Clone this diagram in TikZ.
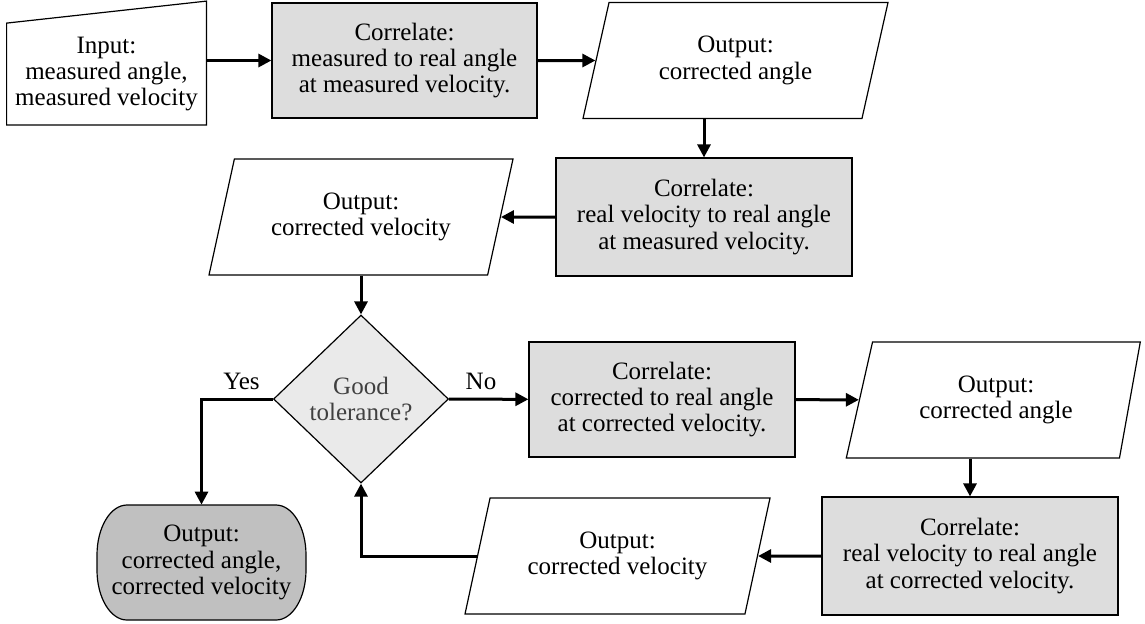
\documentclass[tikz,border=0pt]{standalone}
\usepackage{fontspec}
\setmainfont{Liberation Serif}
\usepackage{xcolor}
\usepackage{tikz}
\usetikzlibrary{shapes.geometric,arrows.meta,positioning,calc}
\definecolor{corrbg}{RGB}{221, 221, 221}
\definecolor{decisionbg}{RGB}{234, 234, 234}
\definecolor{endbg}{RGB}{192, 192, 192}
\definecolor{textmuted}{RGB}{64, 64, 64}

\begin{document}
\begin{tikzpicture}[x=0.5pt, y=-0.5pt,
    every node/.style={font=\fontsize{12.5}{13.2}\selectfont, align=center},
    corrbox/.style={draw, line width=0.6pt, fill=corrbg, minimum height=57.5pt, inner sep=0pt},
    iobox/.style={trapezium, draw, line width=0.6pt, fill=white, trapezium stretches body,
        minimum width=152.5pt, minimum height=58pt, inner sep=0pt},
    flow/.style={line width=1.5pt, -{Triangle[length=6.5pt, width=6.5pt]}}]
    \useasboundingbox (0,0) rectangle (1145,623);

    % top row
    \node[minimum width=99.5pt, minimum height=50.5pt, inner sep=0pt] (in) at (106.5,74) {Input:\\measured angle,\\measured velocity};
    \draw[line width=0.6pt] (in.south west) -- (in.south east) -- ([yshift=11pt]in.north east) -- (in.north west) -- cycle;
    \node[corrbox, minimum width=132.5pt] (corr1) at (404.5,60.5) {Correlate:\\measured to real angle\\at measured velocity.};
    \node[iobox, trapezium left angle=61.7, trapezium right angle=118.3] (out1) at (735.5,60.5) {Output:\\corrected angle};

    % second row
    \node[corrbox, minimum width=148pt, minimum height=59pt] (corr2) at (704,217) {Correlate:\\real velocity to real angle\\ at measured velocity.};
    \node[iobox, trapezium left angle=62.3, trapezium right angle=117.7, minimum width=152pt] (out2) at (361,217) {Output:\\corrected velocity};

    % decision
    \node[diamond, draw, line width=0.6pt, fill=decisionbg, text=textmuted, aspect=1,
        minimum width=87.5pt, minimum height=84pt, inner sep=0pt] (dia) at (361,399) {Good\\tolerance?};
    \node (yes) at (241.5,381) {Yes};
    \node (no) at (481,381) {No};

    % end: flat top and bottom, curved sides
    \draw[line width=0.6pt, fill=endbg] (127,505) -- (276,505)
        arc[start angle=90, end angle=0, x radius=15pt, y radius=25pt] -- (306,570)
        arc[start angle=0, end angle=-90, x radius=15pt, y radius=25pt] -- (127,620)
        arc[start angle=-90, end angle=-180, x radius=15pt, y radius=25pt] -- (97,555)
        arc[start angle=180, end angle=90, x radius=15pt, y radius=25pt] -- cycle;
    \node[minimum width=104.5pt, minimum height=57.5pt, inner sep=0pt] (term) at (201.5,562.5) {Output:\\corrected angle,\\corrected velocity};

    % loop
    \node[corrbox, minimum width=133pt] (corr3) at (662,399.5) {Correlate:\\corrected to real angle\\ at corrected velocity.};
    \node[iobox, trapezium left angle=61.5, trapezium right angle=113.3, minimum width=147pt] (out3) at (996,400) {Output:\\corrected angle};
    \node[corrbox, minimum width=148pt, minimum height=59pt] (corr4) at (970,556) {Correlate:\\real velocity to real angle\\ at corrected velocity.};
    \node[iobox, trapezium left angle=62.6, trapezium right angle=117.4] (out4) at (617.5,556) {Output:\\corrected velocity};

    % arrows
    \draw[flow] (in.east |- corr1.west) -- (corr1.west);
    \draw[flow] (corr1) -- (out1);
    \draw[flow] (corr2.north |- out1.south) -- (corr2.north);
    \draw[flow] (corr2) -- (out2);
    \draw[flow] (dia.north |- out2.south) -- (dia.north);
    \draw[flow] (dia.west) -| (term.north);
    \draw[flow] (dia) -- (corr3);
    \draw[flow] (corr3) -- (out3);
    \draw[flow] (corr4.north |- out3.south) -- (corr4.north);
    \draw[flow] (corr4) -- (out4);
    \draw[flow] (out4) -| (dia.south);
\end{tikzpicture}
\end{document}
